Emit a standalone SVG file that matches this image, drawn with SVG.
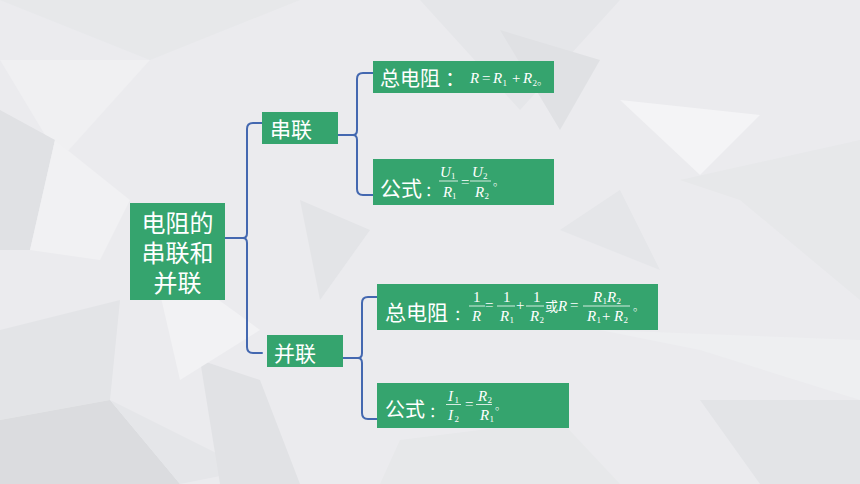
<svg xmlns="http://www.w3.org/2000/svg" width="860" height="484" viewBox="0 0 860 484">
<style>
.box{fill:#35a46e}
.cn{font-family:"Noto Sans CJK SC","Noto Sans",sans-serif;fill:#ffffff}
.m{font-family:"Liberation Serif","Times New Roman",serif;fill:#ffffff;font-size:15px}
.mi{font-style:italic}
.sub{font-size:9px}
.dot{font-family:"Noto Sans CJK SC",sans-serif;font-size:11px;font-weight:300}
.bar{stroke:#ffffff;stroke-width:0.8}
.conn{fill:none;stroke:#4468b0;stroke-width:2;stroke-linecap:round;stroke-linejoin:round}
</style>
<g id="background">
<rect x="0" y="0" width="860" height="484" fill="#ebebee"/>
<polygon points="0,0 300,0 150,60" fill="#e7e8ea"/>
<polygon points="0,60 150,60 60,160" fill="#f0f0f2"/>
<polygon points="0,110 55,140 30,250 0,250" fill="#e0e1e4"/>
<polygon points="55,140 130,200 100,260 30,250" fill="#f1f1f3"/>
<polygon points="0,330 120,300 110,400 0,420" fill="#e3e4e7"/>
<polygon points="0,420 110,400 180,484 0,484" fill="#dbdcdf"/>
<polygon points="110,400 250,470 180,484" fill="#e5e6e9"/>
<polygon points="200,360 260,380 300,484 220,484" fill="#e1e2e5"/>
<polygon points="420,0 620,0 520,110" fill="#e5e6e9"/>
<polygon points="500,30 600,60 560,130" fill="#e0e1e4"/>
<polygon points="620,100 760,115 700,175" fill="#f4f4f6"/>
<polygon points="680,180 860,140 860,300 740,200" fill="#e7e8ea"/>
<polygon points="560,230 620,190 660,270" fill="#e5e6e9"/>
<polygon points="600,330 860,340 860,400 700,350" fill="#eeeff1"/>
<polygon points="700,400 860,400 860,484 760,484" fill="#e3e4e7"/>
<polygon points="400,440 560,420 620,484 380,484" fill="#e7e8ea"/>
<polygon points="300,200 370,230 320,300" fill="#e3e4e7"/>
<polygon points="150,250 260,330 180,380" fill="#f2f2f4"/>
</g>
<g id="connectors">
<path class="conn" d="M225 238 H243 M262 123 H253 Q247 123 247 129 V233 Q247 238 243 238 Q247 238 247 243 V347 Q247 353 253 353 H262"/>
<path class="conn" d="M338 135 H353 M373 73 H363 Q357 73 357 79 V130 Q357 135 353 135 Q357 135 357 140 V189 Q357 195 363 195 H373"/>
<path class="conn" d="M343 358 H358 M377 297 H368 Q362 297 362 303 V353 Q362 358 358 358 Q362 358 362 363 V413 Q362 419 368 419 H377"/>
</g>
<g id="root">
<rect class="box" x="130" y="203" width="95" height="97"/>
<text class="cn" font-size="24" text-anchor="middle" x="177.5" y="232">电阻的</text>
<text class="cn" font-size="24" text-anchor="middle" x="177.5" y="262">串联和</text>
<text class="cn" font-size="24" text-anchor="middle" x="177.5" y="292">并联</text>
</g>
<g id="series">
<rect class="box" x="262" y="112" width="76" height="32"/>
<text class="cn" font-size="21" x="270" y="137">串联</text>
</g>
<g id="parallel">
<rect class="box" x="267" y="335" width="76" height="32"/>
<text class="cn" font-size="21" x="274" y="361">并联</text>
</g>
<g id="series-resistance">
<rect class="box" x="373" y="61" width="181" height="32"/>
<text class="cn" font-size="20" x="380" y="86">总电阻<tspan dx="5">：</tspan></text>
<text class="m" y="83"><tspan class="mi" x="470">R</tspan><tspan x="482">=</tspan><tspan class="mi" x="493">R</tspan><tspan class="sub" x="502.5" y="86">1</tspan><tspan x="512" y="83">+</tspan><tspan class="mi" x="523">R</tspan><tspan class="sub" x="532.5" y="86">2</tspan><tspan class="dot" x="537" y="85">。</tspan></text>
</g>
<g id="series-formula">
<rect class="box" x="373" y="159" width="181" height="46"/>
<text class="cn" font-size="21" x="380" y="196">公式<tspan font-size="15" dx="3">：</tspan></text>
<line class="bar" x1="439" y1="181" x2="458" y2="181"/>
<line class="bar" x1="470" y1="181" x2="491" y2="181"/>
<text class="m"><tspan class="mi" x="440" y="177">U</tspan><tspan class="sub" x="451" y="179">1</tspan><tspan class="mi" x="443" y="197">R</tspan><tspan class="sub" x="452" y="199">1</tspan><tspan x="461" y="187">=</tspan><tspan class="mi" x="472" y="177">U</tspan><tspan class="sub" x="483" y="179">2</tspan><tspan class="mi" x="475" y="197">R</tspan><tspan class="sub" x="484.5" y="199">2</tspan><tspan class="dot" x="493" y="186">。</tspan></text>
</g>
<g id="parallel-resistance">
<rect class="box" x="377" y="284" width="281" height="46"/>
<text class="cn" font-size="21" x="385" y="320">总电阻<tspan font-size="15" dx="6">：</tspan></text>
<line class="bar" x1="469" y1="306" x2="485" y2="306"/>
<line class="bar" x1="497" y1="306" x2="515" y2="306"/>
<line class="bar" x1="526" y1="306" x2="544" y2="306"/>
<line class="bar" x1="583" y1="306" x2="630" y2="306"/>
<text class="m"><tspan x="473" y="302">1</tspan><tspan class="mi" x="472" y="321">R</tspan><tspan x="485" y="310">=</tspan><tspan x="503" y="302">1</tspan><tspan class="mi" x="500" y="321">R</tspan><tspan class="sub" x="509.5" y="323">1</tspan><tspan x="516" y="310">+</tspan><tspan x="533" y="302">1</tspan><tspan class="mi" x="530" y="321">R</tspan><tspan class="sub" x="539.5" y="323">2</tspan><tspan x="570" y="310">=</tspan><tspan class="mi" x="593" y="302">R</tspan><tspan class="sub" x="602.5" y="304">1</tspan><tspan class="mi" x="607" y="302">R</tspan><tspan class="sub" x="616.5" y="304">2</tspan><tspan class="mi" x="587" y="321">R</tspan><tspan class="sub" x="596.5" y="323">1</tspan><tspan x="602" y="321">+</tspan><tspan class="mi" x="614" y="321">R</tspan><tspan class="sub" x="623.5" y="323">2</tspan><tspan class="dot" x="633" y="311">。</tspan></text>
<text class="cn" font-size="13" x="545" y="311">或</text>
<text class="m mi" x="558" y="311">R</text>
</g>
<g id="parallel-formula">
<rect class="box" x="377" y="383" width="192" height="45"/>
<text class="cn" font-size="20" x="385" y="417">公式<tspan font-size="15" dx="4">：</tspan></text>
<line class="bar" x1="446" y1="404.5" x2="461" y2="404.5"/>
<line class="bar" x1="476" y1="404.5" x2="492" y2="404.5"/>
<text class="m"><tspan class="mi" x="448" y="401">I</tspan><tspan class="sub" x="454.5" y="403">1</tspan><tspan class="mi" x="448" y="420">I</tspan><tspan class="sub" x="454.5" y="422">2</tspan><tspan x="465" y="409">=</tspan><tspan class="mi" x="478" y="401">R</tspan><tspan class="sub" x="487.5" y="403">2</tspan><tspan class="mi" x="480" y="420">R</tspan><tspan class="sub" x="489.5" y="422">1</tspan><tspan class="dot" x="495" y="410">。</tspan></text>
</g>
</svg>
